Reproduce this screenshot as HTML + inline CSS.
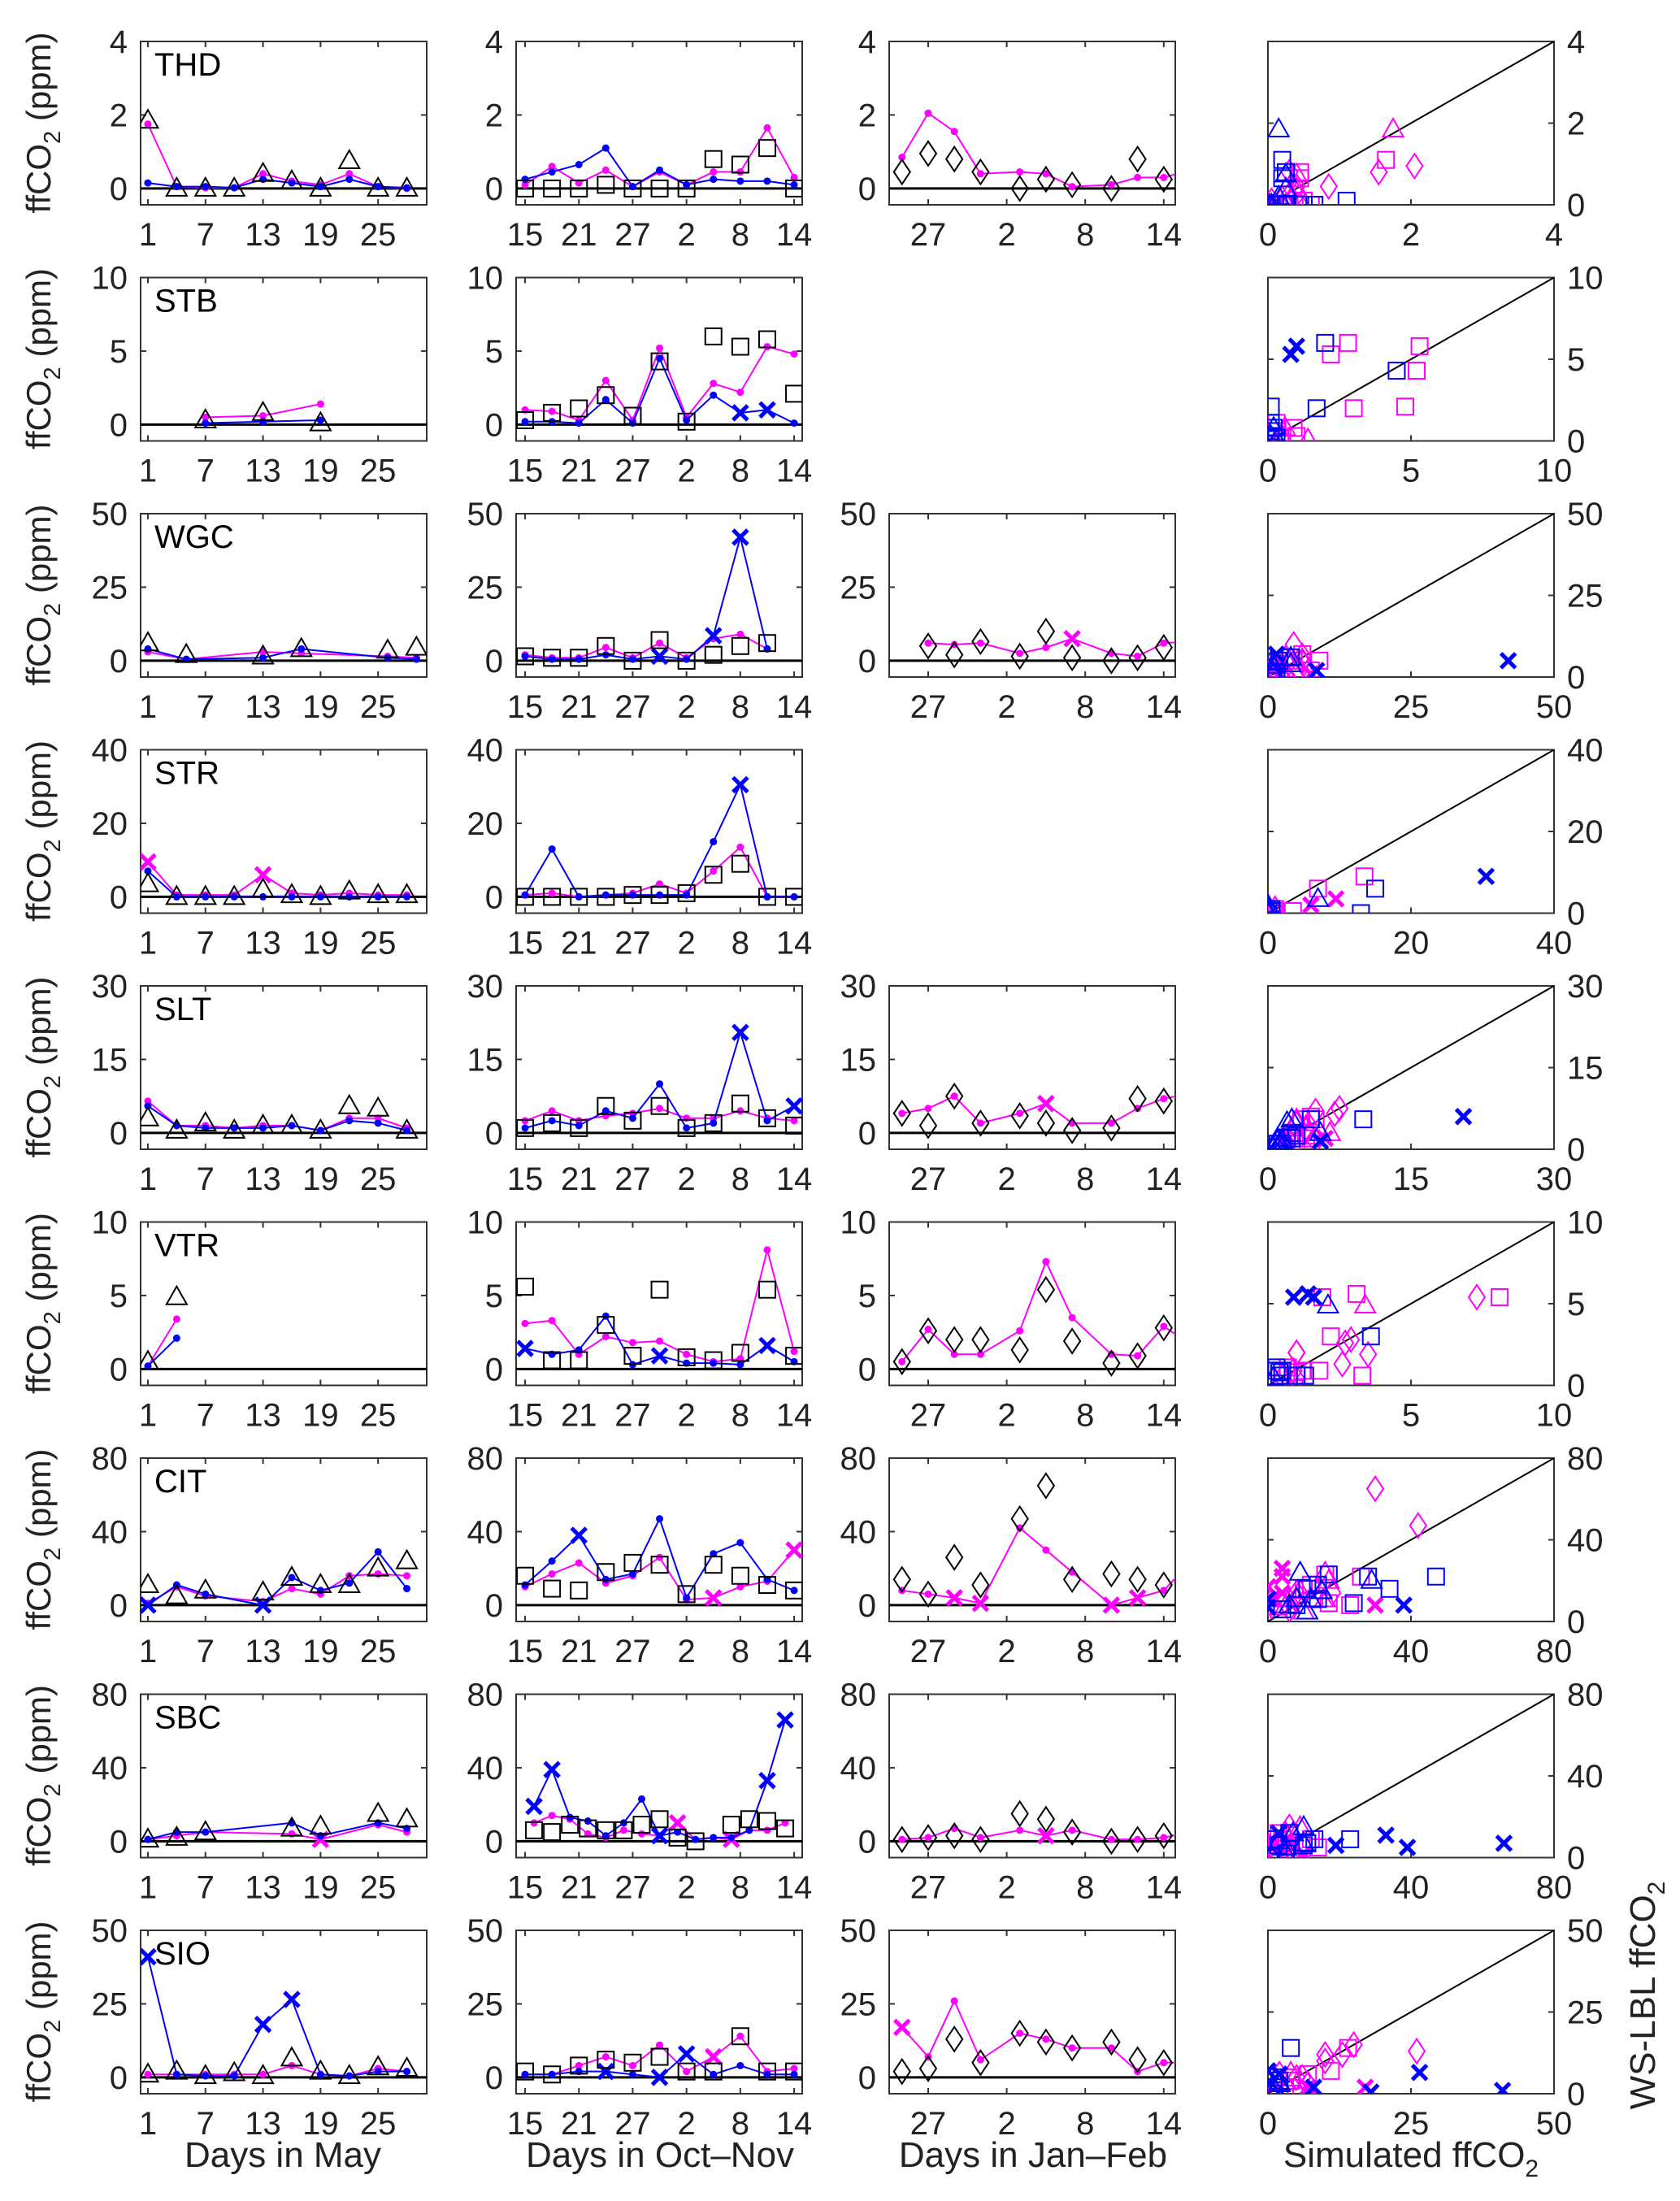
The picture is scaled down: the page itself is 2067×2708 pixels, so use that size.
<!DOCTYPE html>
<html><head><meta charset="utf-8"><style>
html,body{margin:0;padding:0;background:#fff;}
svg{display:block;font-family:"Liberation Sans",sans-serif;}
</style></head><body>
<svg id="fig" xmlns="http://www.w3.org/2000/svg" width="2067" height="2708" viewBox="0 0 2067 2708">
<rect width="2067" height="2708" fill="#fff"/>
<text x="348" y="2666" font-size="44" text-anchor="middle" fill="#222">Days in May</text>
<text x="812" y="2666" font-size="44" text-anchor="middle" fill="#222">Days in Oct–Nov</text>
<text x="1271" y="2666" font-size="44" text-anchor="middle" fill="#222">Days in Jan–Feb</text>
<text x="1736" y="2666" font-size="44" text-anchor="middle" fill="#222">Simulated ffCO<tspan font-size="30" dy="12">2</tspan></text>
<text transform="translate(2036,2455) rotate(-90)" font-size="44" text-anchor="middle" fill="#222">WS-LBL ffCO<tspan font-size="30" dy="12">2</tspan></text>
</svg>
<script>
const mayDays=[1,4,7,10,13,16,19,22,25,28];
const octDays=[0,3,6,9,12,15,18,21,24,27,30];
const janDays=[-2,0,2,4,7,9,11,14,16,18,20];
const stations=['THD','STB','WGC','STR','SLT','VTR','CIT','SBC','SIO'];
const ymaxes=[4,10,50,40,30,10,80,80,50];
const mayTicks=[1,7,13,19,25];
const octTicks=[0,6,12,18,24,30];
const octTickLabels=['15','21','27','2','8','14'];
const janTicks=[0,6,12,18];
const janTickLabels=['27','2','8','14'];

const THD_may_obs=[1.85,0,0,0,0.4,0.2,0,0.75,0,0];
const THD_may_m=[1.75,0.05,0.02,0.02,0.4,0.2,0.1,0.4,0.05,0];
const THD_may_b=[0.15,0.05,0.05,0.02,0.25,0.15,0.05,0.25,0.05,0.02];
const THD_oct_obs=[0,0,0,0.1,0,0,0,0.8,0.65,1.1,0];
const THD_oct_m=[0.1,0.6,0.15,0.5,0.05,0.45,0.1,0.45,0.45,1.65,0.3];
const THD_oct_b=[0.25,0.45,0.65,1.1,0.05,0.5,0.1,0.25,0.2,0.2,0.1];
const THD_jan_obs=[0.45,0.95,0.8,0.45,0,0.25,0.1,0,0.8,0.25,null];
const THD_jan_m=[0.85,2.05,1.55,0.4,0.45,0.4,0.05,0.1,0.3,0.3,0.5];

const STB_may_obs=[null,null,0.3,null,0.8,null,0.1,null,null,null];
const STB_may_m=[null,null,0.5,null,0.6,null,1.4,null,null,null];
const STB_may_b=[null,null,0.1,null,0.2,null,0.3,null,null,null];
const STB_oct_obs=[0.3,0.8,1.1,2.0,0.6,4.3,0.2,6.0,5.3,5.8,2.1];
const STB_oct_m=[1.0,0.9,0.3,3.0,0.3,5.2,0.5,2.8,2.2,5.3,4.8];
const STB_oct_b=[0.2,0.2,0.1,1.7,0.1,4.5,0.3,2.0,0.8,1.0,0.1];
const STB_oct_bx=[8,9];

const WGC_may_days=[1,5,13,17,26,29];
const WGC_may_obs=[6,2,1.5,4,3.5,4.5];
const WGC_may_m=[3,0.5,3,2.5,1.5,1];
const WGC_may_b=[4,0.5,1,4,1,0.5];
const WGC_oct_days=[0,3,6,9,12,15,18,21,24,27];
const WGC_oct_obs=[1.5,1,1,5,0,7,0,2,5,6];
const WGC_oct_m=[2,1,1,4.5,1,6,1,7.5,9,4];
const WGC_oct_b=[1.5,0.5,0.5,2,0.5,1.5,0.5,8.5,42,4];
const WGC_oct_bx=[5,7,8];
const WGC_jan_obs=[null,5,2,6.5,1.5,10,1,0,1,4.5,null];
const WGC_jan_m=[null,6,5.5,6,2.5,4.5,7.5,2.5,1.5,6,6.5];
const WGC_jan_mx=[6];

const STR_may_obs=[3.5,0,0,0,2,0.5,0,1.5,0.5,0.5];
const STR_may_m=[9.5,0.5,0.5,0.5,6,1,0.5,1,0.5,0.5];
const STR_may_mx=[0,4];
const STR_may_b=[7,0,0,0,0,0,0,0,0,0];
const STR_oct_obs=[0,0,0,0,0.5,0.5,1,6,9,0,0];
const STR_oct_m=[0.5,1,0,0.5,1,3.5,1,7,13.5,0,0];
const STR_oct_b=[0.5,13,0,0.5,0.5,0.5,0.5,15,30.5,0,0];
const STR_oct_bx=[8];

const SLT_may_obs=[3,0.5,2,0.5,1.5,1.5,0.5,5.5,5,0.5];
const SLT_may_m=[6.5,1.5,1.5,1,1.5,1.5,0.5,3,3,1];
const SLT_may_b=[5.5,1.5,1,1,1,1.5,0.5,2.5,2,0.5];
const SLT_oct_obs=[1,2,1,5.5,2.5,5.5,1,2,6,3,1.5];
const SLT_oct_m=[2.5,4.5,2.5,3.5,4,5,3,3,4.5,3,2.5];
const SLT_oct_b=[1,2.5,1.5,4.5,3,10,1,2,20.5,2.5,5.5];
const SLT_oct_bx=[8,10];
const SLT_jan_obs=[4,1.5,7.5,2,3.5,2,0.5,1,7,6.5,null];
const SLT_jan_m=[4,5,7.5,2,4,6,2,2,5,7,8];
const SLT_jan_mx=[5];

const VTR_may_obs=[0.5,4.9,null,null,null,null,null,null,null,null];
const VTR_may_m=[0.2,3.4,null,null,null,null,null,null,null,null];
const VTR_may_b=[0.2,2.1,null,null,null,null,null,null,null,null];
const VTR_oct_obs=[5.6,0.6,0.6,3.0,0.9,5.4,0.8,0.6,1.1,5.4,0.9];
const VTR_oct_m=[3.1,3.3,1.0,2.2,1.8,1.9,1.0,0.5,0.7,8.1,1.2];
const VTR_oct_b=[1.4,1.0,1.3,3.6,0.3,0.9,0.4,0.4,0.3,1.6,0.5];
const VTR_oct_bx=[0,5,9];
const VTR_jan_obs=[0.5,2.6,2,2,1.3,5.4,1.9,0.4,0.9,2.8,null];
const VTR_jan_m=[0.5,2.7,1.0,1.0,2.6,7.3,3.5,1.0,0.9,2.9,1.7];

const CIT_may_days=[1,4,7,13,16,19,22,25,28];
const CIT_may_obs=[11,5,8,7,15,11,11,20,24];
const CIT_may_m=[1,10,5,2,9,6,16,17,16];
const CIT_may_b=[0,11,6,0,15,8,12,29,9];
const CIT_may_bx=[0,3];
const CIT_oct_obs=[16,9,8,18,23,22,6,22,16,11,8];
const CIT_oct_m=[10,17,23,12,16,26,3,4,10,13,30];
const CIT_oct_mx=[7,10];
const CIT_oct_b=[11,24,38,14,17,47,4,28,34,14,8];
const CIT_oct_bx=[2];
const CIT_jan_obs=[14,6,26,11,47,65,14,17,14,11,null];
const CIT_jan_m=[8,6,4,1,42,30,18,0,4,8,23];
const CIT_jan_mx=[2,3,7,8];

const SBC_may_days=[1,4,7,16,19,25,28];
const SBC_may_obs=[1,2,5,7,8,15,12];
const SBC_may_m=[1,3,5,4,1,9,5];
const SBC_may_mx=[4];
const SBC_may_b=[1,5,5,10,3,10,7];
const SBC_oct_days=[1,3,5,7,9,11,13,15,17,19,21,23,25,27,29];
const SBC_oct_obs=[6,5,9,7,6,6,9,12,2,0,null,9,12,11,7];
const SBC_oct_m=[10,14,12,4,2,6,4,3,10,1,2,1,6,6,10];
const SBC_oct_mx=[8,11];
const SBC_oct_b=[19,39,13,11,3,10,23,3,5,1,2,2,6,33,66];
const SBC_oct_bx=[0,1,7,13,14];
const SBC_jan_obs=[1,2,3,1,15,12,5,0,1,3,null];
const SBC_jan_m=[1,2,7,2,6,3,6,1,1,2,5];
const SBC_jan_mx=[5];

const SIO_may_obs=[1,2,0.5,1.5,0.5,6.5,2,0.5,3.5,3];
const SIO_may_m=[1,1,1,1,1,4,1,0.5,3,2];
const SIO_may_b=[41,1,0.5,0.5,18,26.5,1,0.5,2,2];
const SIO_may_bx=[0,4,5];
const SIO_oct_obs=[2,1,4,6,5,7,2,2,14,2,2];
const SIO_oct_m=[1,1,4,7,4,11,2,7,14,2,3];
const SIO_oct_mx=[7];
const SIO_oct_b=[1,1,2,2,1,0,8,1,4,1,1];
const SIO_oct_bx=[3,5,6];
const SIO_jan_obs=[2,3,13,5,15,12,10,12,6,5,null];
const SIO_jan_m=[17,7,26,6,15,13,10,10,2,5,5];
const SIO_jan_mx=[0];

const E=[];
const panels=[
 [{d:mayDays,o:THD_may_obs,m:THD_may_m,b:THD_may_b},{d:octDays,o:THD_oct_obs,m:THD_oct_m,b:THD_oct_b},{d:janDays,o:THD_jan_obs,m:THD_jan_m}],
 [{d:mayDays,o:STB_may_obs,m:STB_may_m,b:STB_may_b},{d:octDays,o:STB_oct_obs,m:STB_oct_m,b:STB_oct_b,bx:STB_oct_bx},null],
 [{d:WGC_may_days,o:WGC_may_obs,m:WGC_may_m,b:WGC_may_b},{d:WGC_oct_days,o:WGC_oct_obs,m:WGC_oct_m,b:WGC_oct_b,bx:WGC_oct_bx},{d:janDays,o:WGC_jan_obs,m:WGC_jan_m,mx:WGC_jan_mx}],
 [{d:mayDays,o:STR_may_obs,m:STR_may_m,b:STR_may_b,mx:STR_may_mx},{d:octDays,o:STR_oct_obs,m:STR_oct_m,b:STR_oct_b,bx:STR_oct_bx},null],
 [{d:mayDays,o:SLT_may_obs,m:SLT_may_m,b:SLT_may_b},{d:octDays,o:SLT_oct_obs,m:SLT_oct_m,b:SLT_oct_b,bx:SLT_oct_bx},{d:janDays,o:SLT_jan_obs,m:SLT_jan_m,mx:SLT_jan_mx}],
 [{d:mayDays,o:VTR_may_obs,m:VTR_may_m,b:VTR_may_b},{d:octDays,o:VTR_oct_obs,m:VTR_oct_m,b:VTR_oct_b,bx:VTR_oct_bx},{d:janDays,o:VTR_jan_obs,m:VTR_jan_m}],
 [{d:CIT_may_days,o:CIT_may_obs,m:CIT_may_m,b:CIT_may_b,bx:CIT_may_bx},{d:octDays,o:CIT_oct_obs,m:CIT_oct_m,b:CIT_oct_b,mx:CIT_oct_mx,bx:CIT_oct_bx},{d:janDays,o:CIT_jan_obs,m:CIT_jan_m,mx:CIT_jan_mx}],
 [{d:SBC_may_days,o:SBC_may_obs,m:SBC_may_m,b:SBC_may_b,mx:SBC_may_mx},{d:SBC_oct_days,o:SBC_oct_obs,m:SBC_oct_m,b:SBC_oct_b,mx:SBC_oct_mx,bx:SBC_oct_bx},{d:janDays,o:SBC_jan_obs,m:SBC_jan_m,mx:SBC_jan_mx}],
 [{d:mayDays,o:SIO_may_obs,m:SIO_may_m,b:SIO_may_b,bx:SIO_may_bx},{d:octDays,o:SIO_oct_obs,m:SIO_oct_m,b:SIO_oct_b,mx:SIO_oct_mx,bx:SIO_oct_bx},{d:janDays,o:SIO_jan_obs,m:SIO_jan_m,mx:SIO_jan_mx}]
];

const NS='http://www.w3.org/2000/svg';
const svg=document.getElementById('fig');
function el(tag,attrs,parent){const e=document.createElementNS(NS,tag);for(const k in attrs)e.setAttribute(k,attrs[k]);(parent||svg).appendChild(e);return e;}
const colLeft=[173,635,1094,1560], W=352, H=201;
const xlims=[[0.24,30.07],[-1,30.9],[-2.98,18.88]];
const obsShapes=['tri','sq','dia'];
const MAG='#ff00ff', BLU='#0000ff';
const FS=40;
function rowTop(r){return 51+290.5*r;}

function marker(g,shape,x,y,color,sw){
  let e;
  if(shape==='tri') e=el('polygon',{points:`${x},${y-13} ${x-12.5},${y+9} ${x+12.5},${y+9}`,fill:'none',stroke:color,'stroke-width':sw},g);
  else if(shape==='sq') e=el('rect',{x:x-10,y:y-10,width:20,height:20,fill:'none',stroke:color,'stroke-width':sw},g);
  else if(shape==='dia') e=el('polygon',{points:`${x},${y-15} ${x+10},${y} ${x},${y+15} ${x-10},${y}`,fill:'none',stroke:color,'stroke-width':sw},g);
  else if(shape==='x') e=el('path',{d:`M${x-9},${y-9}L${x+9},${y+9}M${x+9},${y-9}L${x-9},${y+9}`,stroke:color,'stroke-width':5,fill:'none'},g);
  else e=el('circle',{cx:x,cy:y,r:4.5,fill:color},g);
  return e;
}

function axesBox(g,L,T,name){
  const r=el('rect',{x:L,y:T,width:W,height:H,fill:'none',stroke:'#333','stroke-width':2},g);
  
  
}

let clipId=0;
function clip(L,T){const id='c'+(clipId++);const cp=el('clipPath',{id:id});el('rect',{x:L,y:T,width:W,height:H},cp);return id;}

stations.forEach((st,r)=>{
  const T=rowTop(r), ymax=ymaxes[r], ymin=-ymax/9;
  const ys=v=>T+(ymax-v)/(ymax-ymin)*H;
  const yl=el('text',{transform:`translate(62,${T+100}) rotate(-90)`,'font-size':42,'text-anchor':'middle',fill:'#222'});
  
  
  yl.innerHTML='ffCO<tspan font-size="29" dy="12">2</tspan><tspan dy="-12"> (ppm)</tspan>';
  for(let c=0;c<3;c++){
    const p=panels[r][c]; if(!p) continue;
    const L=colLeft[c], xl=xlims[c];
    const xs=v=>L+(v-xl[0])/(xl[1]-xl[0])*W;
    const g=el('g',{});
    
    
    axesBox(g,L,T,'axes-box');
    [0,ymax/2,ymax].forEach(v=>{
      const y=ys(v);
      el('line',{x1:L,x2:L+7,y1:y,y2:y,stroke:'#333','stroke-width':2},g);
      el('line',{x1:L+W-7,x2:L+W,y1:y,y2:y,stroke:'#333','stroke-width':2},g);
      const t=el('text',{x:L-16,y:y+14,'font-size':FS,'text-anchor':'end',fill:'#222'},g);
      
      
      t.textContent=String(v);
    });
    const tks=c===0?mayTicks:c===1?octTicks:janTicks;
    const tls=c===0?mayTicks.map(String):c===1?octTickLabels:janTickLabels;
    tks.forEach((v,i)=>{
      const x=xs(v);
      el('line',{x1:x,x2:x,y1:T+H-7,y2:T+H,stroke:'#333','stroke-width':2},g);
      el('line',{x1:x,x2:x,y1:T,y2:T+7,stroke:'#333','stroke-width':2},g);
      const t=el('text',{x:x,y:T+251,'font-size':FS,'text-anchor':'middle',fill:'#222'},g);
      
      
      t.textContent=tls[i];
    });
    const cid=clip(L,T);
    const pg=el('g',{'clip-path':`url(#${cid})`},g);
    el('line',{x1:L,x2:L+W,y1:ys(0),y2:ys(0),stroke:'#000','stroke-width':3},pg);
    [['m',MAG,'mx'],['b',BLU,'bx']].forEach(([k,col,fk])=>{
      const vals=p[k]; if(!vals) return;
      const flags=p[fk]||E;
      const pts=[];
      vals.forEach((v,i)=>{if(v!==null)pts.push([xs(p.d[i]),ys(v),i]);});
      const pl=el('polyline',{points:pts.map(q=>q[0]+','+q[1]).join(' '),fill:'none',stroke:col,'stroke-width':2},pg);
      
      
      pts.forEach(q=>{
        const mk=marker(pg,flags.includes(q[2])?'x':'dot',q[0],q[1],col,2);
        
        
      });
    });
    p.o.forEach((v,i)=>{
      if(v===null) return;
      const mk=marker(pg,obsShapes[c],xs(p.d[i]),ys(v),'#000',2);
      
      
    });
    if(c===0){
      const lb=el('text',{x:190,y:T+42,'font-size':40,fill:'#000'},g);
      
      
      lb.textContent=st;
    }
  }
  const L=colLeft[3];
  const sx=v=>L+v/ymax*W, sy=v=>T+(ymax-v)/ymax*H;
  const g=el('g',{});
  
  
  axesBox(g,L,T,'scatter-box');
  [0,ymax/2,ymax].forEach(v=>{
    el('line',{x1:L+W-7,x2:L+W,y1:sy(v),y2:sy(v),stroke:'#333','stroke-width':2},g);
    el('line',{x1:L,x2:L+7,y1:sy(v),y2:sy(v),stroke:'#333','stroke-width':2},g);
    el('line',{x1:sx(v),x2:sx(v),y1:T+H-7,y2:T+H,stroke:'#333','stroke-width':2},g);
    const t=el('text',{x:L+W+16,y:sy(v)+14,'font-size':FS,fill:'#222'},g);
    
    
    t.textContent=String(v);
    const t2=el('text',{x:sx(v),y:T+251,'font-size':FS,'text-anchor':'middle',fill:'#222'},g);
    
    
    t2.textContent=String(v);
  });
  const cid=clip(L,T);
  const pg=el('g',{'clip-path':`url(#${cid})`},g);
  const dl=el('line',{x1:sx(0),y1:sy(0),x2:sx(ymax),y2:sy(ymax),stroke:'#000','stroke-width':2},pg);
  
  
  [['m',MAG,'mx'],['b',BLU,'bx']].forEach(([k,col,fk])=>{
    for(let c=0;c<3;c++){
      const p=panels[r][c]; if(!p||!p[k]) continue;
      const flags=p[fk]||E;
      p.o.forEach((ov,i)=>{
        const mv=p[k][i];
        if(ov===null||mv===null) return;
        const mk=marker(pg,flags.includes(i)?'x':obsShapes[c],sx(mv),sy(ov),col,2);
        
        
      });
    }
  });
});
</script>
</body></html>
